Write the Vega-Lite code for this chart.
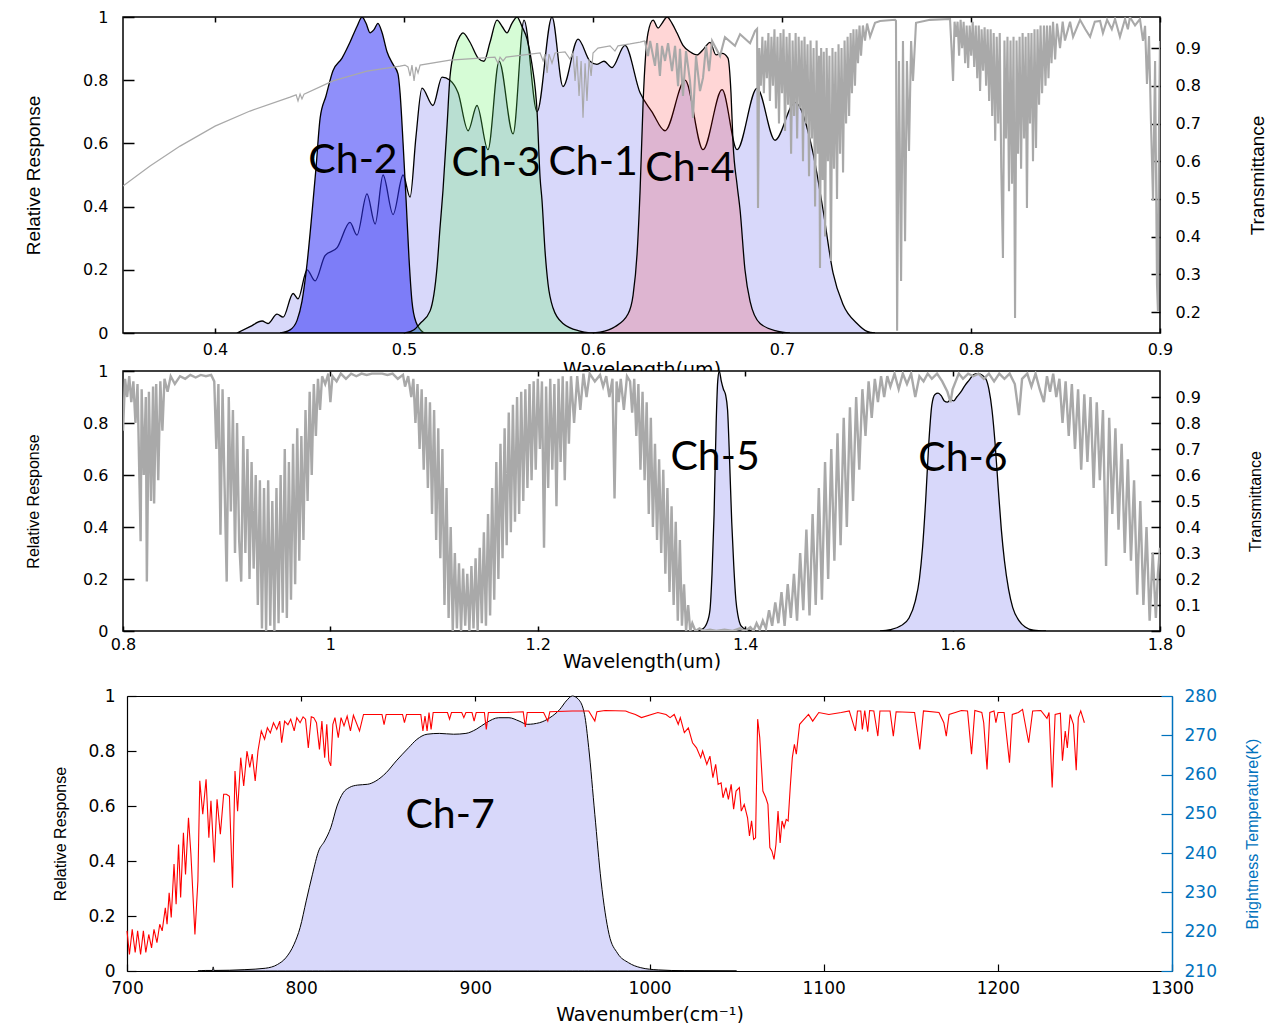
{
  "$schema": "https://vega.github.io/schema/vega-lite/v6.json",
  "background": "white",
  "padding": {"left": 23, "top": 8, "right": 1, "bottom": 1},
  "bounds": "flush",
  "spacing": 38,
  "config": {
    "axis": {"grid": false, "labelFlush": false, "labelOverlap": false, "labelBound": false, "labelFont": "DejaVu Sans", "labelFontSize": 16, "labelColor": "black", "tickColor": "black", "tickWidth": 1.5, "domain": false, "titleFontWeight": "normal", "titleColor": "black"},
    "text": {"font": "Lato", "fontSize": 41, "color": "black"}
  },
  "datasets": {
    "ch1": [
      {"wl":0.4116,"r":0},{"wl":0.4185,"r":0.02},{"wl":0.4249,"r":0.038},{"wl":0.428,"r":0.03},{"wl":0.4328,"r":0.06},{"wl":0.436,"r":0.05},{"wl":0.4413,"r":0.125},{"wl":0.4439,"r":0.108},{"wl":0.4487,"r":0.2},{"wl":0.4529,"r":0.165},{"wl":0.4582,"r":0.245},{"wl":0.4646,"r":0.27},{"wl":0.4714,"r":0.35},{"wl":0.4751,"r":0.31},{"wl":0.4804,"r":0.44},{"wl":0.4847,"r":0.345},{"wl":0.4889,"r":0.5},{"wl":0.4942,"r":0.375},{"wl":0.4995,"r":0.5},{"wl":0.5032,"r":0.43},{"wl":0.5063,"r":0.62},{"wl":0.5095,"r":0.775},{"wl":0.5153,"r":0.72},{"wl":0.5201,"r":0.81},{"wl":0.5243,"r":0.8},{"wl":0.5286,"r":0.76},{"wl":0.5339,"r":0.64},{"wl":0.5386,"r":0.72},{"wl":0.5444,"r":0.58},{"wl":0.5503,"r":0.86},{"wl":0.5577,"r":0.63},{"wl":0.5635,"r":0.99},{"wl":0.5704,"r":0.7},{"wl":0.5783,"r":1.0},{"wl":0.5841,"r":0.78},{"wl":0.5921,"r":0.93},{"wl":0.5984,"r":0.86},{"wl":0.6021,"r":0.85},{"wl":0.6058,"r":0.86},{"wl":0.61,"r":0.84},{"wl":0.6169,"r":0.91},{"wl":0.6249,"r":0.76},{"wl":0.6312,"r":0.7},{"wl":0.6381,"r":0.64},{"wl":0.6487,"r":0.8},{"wl":0.6582,"r":0.58},{"wl":0.6683,"r":0.77},{"wl":0.6762,"r":0.58},{"wl":0.6868,"r":0.775},{"wl":0.6963,"r":0.61},{"wl":0.7069,"r":0.73},{"wl":0.7164,"r":0.57},{"wl":0.7217,"r":0.39},{"wl":0.727,"r":0.19},{"wl":0.7323,"r":0.09},{"wl":0.7397,"r":0.03},{"wl":0.745,"r":0.005},{"wl":0.7492,"r":0}
    ],
    "ch2": [
      {"wl":0.4344,"r":0},{"wl":0.4397,"r":0.01},{"wl":0.4434,"r":0.04},{"wl":0.446,"r":0.1},{"wl":0.4487,"r":0.22},{"wl":0.4513,"r":0.38},{"wl":0.4534,"r":0.52},{"wl":0.4556,"r":0.68},{"wl":0.4587,"r":0.75},{"wl":0.4624,"r":0.83},{"wl":0.4672,"r":0.87},{"wl":0.4714,"r":0.92},{"wl":0.4751,"r":0.97},{"wl":0.4778,"r":1.0},{"wl":0.4799,"r":0.98},{"wl":0.482,"r":0.95},{"wl":0.4841,"r":0.96},{"wl":0.4862,"r":0.98},{"wl":0.4884,"r":0.95},{"wl":0.491,"r":0.89},{"wl":0.4942,"r":0.85},{"wl":0.4968,"r":0.82},{"wl":0.4979,"r":0.76},{"wl":0.4995,"r":0.6},{"wl":0.5011,"r":0.42},{"wl":0.5026,"r":0.24},{"wl":0.5042,"r":0.1},{"wl":0.5063,"r":0.035},{"wl":0.5106,"r":0}
    ],
    "ch3": [
      {"wl":0.5005,"r":0},{"wl":0.5053,"r":0.01},{"wl":0.5085,"r":0.03},{"wl":0.5138,"r":0.07},{"wl":0.5175,"r":0.21},{"wl":0.519,"r":0.33},{"wl":0.5206,"r":0.45},{"wl":0.5228,"r":0.66},{"wl":0.5243,"r":0.81},{"wl":0.527,"r":0.9},{"wl":0.5296,"r":0.94},{"wl":0.5312,"r":0.95},{"wl":0.5349,"r":0.92},{"wl":0.5392,"r":0.87},{"wl":0.5423,"r":0.86},{"wl":0.5455,"r":0.92},{"wl":0.5492,"r":0.99},{"wl":0.5519,"r":0.97},{"wl":0.5545,"r":0.95},{"wl":0.5571,"r":0.98},{"wl":0.5598,"r":1.0},{"wl":0.5624,"r":0.97},{"wl":0.5651,"r":0.93},{"wl":0.5677,"r":0.85},{"wl":0.5704,"r":0.7},{"wl":0.572,"r":0.49},{"wl":0.573,"r":0.42},{"wl":0.5746,"r":0.26},{"wl":0.5762,"r":0.155},{"wl":0.5788,"r":0.08},{"wl":0.5841,"r":0.03},{"wl":0.5931,"r":0.006},{"wl":0.5984,"r":0}
    ],
    "ch4": [
      {"wl":0.5984,"r":0},{"wl":0.6037,"r":0.003},{"wl":0.6116,"r":0.02},{"wl":0.6185,"r":0.06},{"wl":0.6212,"r":0.12},{"wl":0.6233,"r":0.25},{"wl":0.6249,"r":0.45},{"wl":0.6265,"r":0.73},{"wl":0.6291,"r":0.95},{"wl":0.6318,"r":0.99},{"wl":0.6344,"r":0.965},{"wl":0.6365,"r":0.98},{"wl":0.6392,"r":1.0},{"wl":0.6418,"r":0.98},{"wl":0.6444,"r":0.95},{"wl":0.6476,"r":0.91},{"wl":0.6513,"r":0.89},{"wl":0.655,"r":0.88},{"wl":0.6587,"r":0.9},{"wl":0.6619,"r":0.92},{"wl":0.6651,"r":0.88},{"wl":0.6683,"r":0.885},{"wl":0.6714,"r":0.87},{"wl":0.673,"r":0.76},{"wl":0.6741,"r":0.6},{"wl":0.6762,"r":0.47},{"wl":0.6778,"r":0.39},{"wl":0.6804,"r":0.2},{"wl":0.6831,"r":0.1},{"wl":0.6884,"r":0.03},{"wl":0.6974,"r":0.006},{"wl":0.7042,"r":0}
    ],
    "trans1": [
      {"wl":0.3513,"t":0.534},{"wl":0.3656,"t":0.587},{"wl":0.3815,"t":0.64},{"wl":0.4,"t":0.693},{"wl":0.4185,"t":0.733},{"wl":0.4397,"t":0.77},{"wl":0.4429,"t":0.776},{"wl":0.4439,"t":0.76},{"wl":0.445,"t":0.778},{"wl":0.446,"t":0.765},{"wl":0.4471,"t":0.778},{"wl":0.4624,"t":0.813},{"wl":0.4804,"t":0.839},{"wl":0.4979,"t":0.852},{"wl":0.5005,"t":0.855},{"wl":0.5021,"t":0.85},{"wl":0.5032,"t":0.826},{"wl":0.5042,"t":0.855},{"wl":0.5053,"t":0.813},{"wl":0.5063,"t":0.85},{"wl":0.5074,"t":0.834},{"wl":0.5085,"t":0.855},{"wl":0.5243,"t":0.868},{"wl":0.5481,"t":0.876},{"wl":0.5497,"t":0.86},{"wl":0.5508,"t":0.876},{"wl":0.5524,"t":0.866},{"wl":0.554,"t":0.876},{"wl":0.572,"t":0.887},{"wl":0.5736,"t":0.866},{"wl":0.5746,"t":0.884},{"wl":0.5757,"t":0.834},{"wl":0.5767,"t":0.884},{"wl":0.5783,"t":0.86},{"wl":0.5799,"t":0.887},{"wl":0.5852,"t":0.89},{"wl":0.5878,"t":0.871},{"wl":0.5894,"t":0.887},{"wl":0.5905,"t":0.813},{"wl":0.5915,"t":0.879},{"wl":0.5926,"t":0.773},{"wl":0.5937,"t":0.866},{"wl":0.5947,"t":0.715},{"wl":0.5958,"t":0.86},{"wl":0.5968,"t":0.76},{"wl":0.5979,"t":0.871},{"wl":0.599,"t":0.826},{"wl":0.6,"t":0.887},{"wl":0.6026,"t":0.9},{"wl":0.609,"t":0.906},{"wl":0.6116,"t":0.892},{"wl":0.6132,"t":0.906},{"wl":0.6196,"t":0.911},{"wl":0.6249,"t":0.916},{"wl":0.6275,"t":0.919},{"wl":0.6291,"t":0.879},{"wl":0.6302,"t":0.919},{"wl":0.6328,"t":0.853},{"wl":0.6339,"t":0.913},{"wl":0.6354,"t":0.826},{"wl":0.6365,"t":0.906},{"wl":0.6381,"t":0.866},{"wl":0.6397,"t":0.913},{"wl":0.6418,"t":0.839},{"wl":0.6434,"t":0.906},{"wl":0.645,"t":0.799},{"wl":0.646,"t":0.898},{"wl":0.6476,"t":0.773},{"wl":0.6492,"t":0.892},{"wl":0.6513,"t":0.813},{"wl":0.6529,"t":0.715},{"wl":0.6545,"t":0.879},{"wl":0.6566,"t":0.786},{"wl":0.6582,"t":0.821},{"wl":0.6598,"t":0.906},{"wl":0.6614,"t":0.839},{"wl":0.663,"t":0.919},{"wl":0.6672,"t":0.879},{"wl":0.6698,"t":0.929},{"wl":0.6751,"t":0.906},{"wl":0.6778,"t":0.937},{"wl":0.6831,"t":0.913},{"wl":0.6857,"t":0.945},{"wl":0.6868,"t":0.951},
      {"wl":0.6873,"t":0.476},{"wl":0.688,"t":0.9},{"wl":0.6888,"t":0.8},{"wl":0.6896,"t":0.93},{"wl":0.6904,"t":0.78},{"wl":0.6912,"t":0.92},{"wl":0.692,"t":0.82},{"wl":0.6928,"t":0.94},{"wl":0.6936,"t":0.76},{"wl":0.6944,"t":0.93},{"wl":0.6952,"t":0.8},{"wl":0.696,"t":0.95},{"wl":0.6968,"t":0.74},{"wl":0.6976,"t":0.93},{"wl":0.6984,"t":0.7},{"wl":0.6992,"t":0.94},{"wl":0.7,"t":0.78},{"wl":0.7008,"t":0.95},{"wl":0.7016,"t":0.68},{"wl":0.7024,"t":0.93},{"wl":0.7032,"t":0.75},{"wl":0.704,"t":0.94},{"wl":0.7048,"t":0.62},{"wl":0.7056,"t":0.92},{"wl":0.7064,"t":0.72},{"wl":0.7072,"t":0.94},{"wl":0.708,"t":0.66},{"wl":0.7088,"t":0.93},{"wl":0.7096,"t":0.74},{"wl":0.7104,"t":0.92},{"wl":0.7111,"t":0.6},{"wl":0.7119,"t":0.93},{"wl":0.7127,"t":0.7},{"wl":0.7135,"t":0.91},{"wl":0.7143,"t":0.56},{"wl":0.7151,"t":0.92},{"wl":0.7159,"t":0.66},{"wl":0.7167,"t":0.9},{"wl":0.7175,"t":0.48},{"wl":0.7183,"t":0.92},{"wl":0.719,"t":0.62},{"wl":0.7196,"t":0.88},{"wl":0.7201,"t":0.317},{"wl":0.7207,"t":0.9},{"wl":0.7215,"t":0.55},{"wl":0.7221,"t":0.89},{"wl":0.7228,"t":0.4},{"wl":0.7236,"t":0.9},{"wl":0.7243,"t":0.6},{"wl":0.7251,"t":0.88},{"wl":0.7259,"t":0.335},{"wl":0.7267,"t":0.9},{"wl":0.7275,"t":0.58},{"wl":0.7283,"t":0.89},{"wl":0.7291,"t":0.5},{"wl":0.7299,"t":0.91},{"wl":0.7307,"t":0.62},{"wl":0.7315,"t":0.9},{"wl":0.7323,"t":0.57},{"wl":0.7331,"t":0.92},{"wl":0.7339,"t":0.7},{"wl":0.7347,"t":0.93},{"wl":0.7355,"t":0.72},{"wl":0.7363,"t":0.94},{"wl":0.737,"t":0.78},{"wl":0.7378,"t":0.95},{"wl":0.7386,"t":0.8},{"wl":0.7394,"t":0.95},{"wl":0.7402,"t":0.86},{"wl":0.741,"t":0.96},{"wl":0.7418,"t":0.88},{"wl":0.7428,"t":0.96},{"wl":0.7439,"t":0.92},{"wl":0.745,"t":0.965},{"wl":0.7466,"t":0.93},{"wl":0.7492,"t":0.967},
      {"wl":0.7519,"t":0.972},{"wl":0.7598,"t":0.975},{"wl":0.7603,"t":0.972},{"wl":0.7609,"t":0.15},{"wl":0.7619,"t":0.866},{"wl":0.763,"t":0.282},{"wl":0.764,"t":0.919},{"wl":0.7651,"t":0.388},{"wl":0.7661,"t":0.866},{"wl":0.7672,"t":0.627},{"wl":0.7683,"t":0.919},{"wl":0.7693,"t":0.813},{"wl":0.7709,"t":0.967},{"wl":0.7783,"t":0.975},
      {"wl":0.7889,"t":0.977},{"wl":0.7897,"t":0.9},{"wl":0.7905,"t":0.813},{"wl":0.7913,"t":0.97},{"wl":0.7921,"t":0.93},{"wl":0.7929,"t":0.97},{"wl":0.7937,"t":0.88},{"wl":0.7945,"t":0.975},{"wl":0.7953,"t":0.9},{"wl":0.7961,"t":0.97},{"wl":0.7969,"t":0.86},{"wl":0.7977,"t":0.96},{"wl":0.7985,"t":0.847},{"wl":0.7993,"t":0.96},{"wl":0.8001,"t":0.88},{"wl":0.8009,"t":0.97},{"wl":0.8017,"t":0.85},{"wl":0.8025,"t":0.96},{"wl":0.8033,"t":0.82},{"wl":0.8041,"t":0.96},{"wl":0.8048,"t":0.786},{"wl":0.8056,"t":0.95},{"wl":0.8064,"t":0.84},{"wl":0.8072,"t":0.955},{"wl":0.808,"t":0.8},{"wl":0.8088,"t":0.95},{"wl":0.8096,"t":0.76},{"wl":0.8104,"t":0.95},{"wl":0.8112,"t":0.72},{"wl":0.812,"t":0.94},{"wl":0.8128,"t":0.654},{"wl":0.8136,"t":0.93},{"wl":0.8144,"t":0.7},{"wl":0.8152,"t":0.94},{"wl":0.816,"t":0.582},{"wl":0.8169,"t":0.343},{"wl":0.8177,"t":0.92},{"wl":0.8185,"t":0.66},{"wl":0.8193,"t":0.93},{"wl":0.8201,"t":0.52},{"wl":0.8209,"t":0.92},{"wl":0.8217,"t":0.54},{"wl":0.8225,"t":0.93},{"wl":0.8233,"t":0.184},{"wl":0.8241,"t":0.92},{"wl":0.8249,"t":0.62},{"wl":0.8257,"t":0.93},{"wl":0.8265,"t":0.58},{"wl":0.8273,"t":0.94},{"wl":0.8281,"t":0.66},{"wl":0.8289,"t":0.93},{"wl":0.8296,"t":0.476},{"wl":0.8304,"t":0.94},{"wl":0.8312,"t":0.7},{"wl":0.832,"t":0.94},{"wl":0.8328,"t":0.6},{"wl":0.8336,"t":0.95},{"wl":0.8344,"t":0.635},{"wl":0.8352,"t":0.95},{"wl":0.836,"t":0.75},{"wl":0.8368,"t":0.96},{"wl":0.8376,"t":0.78},{"wl":0.8386,"t":0.96},{"wl":0.8394,"t":0.8},{"wl":0.8402,"t":0.96},{"wl":0.841,"t":0.82},{"wl":0.8418,"t":0.96},{"wl":0.8426,"t":0.86},{"wl":0.8434,"t":0.97},{"wl":0.8445,"t":0.87},{"wl":0.8455,"t":0.965},{"wl":0.8471,"t":0.9},{"wl":0.8485,"t":0.97},{"wl":0.8497,"t":0.92},{"wl":0.8524,"t":0.97},{"wl":0.854,"t":0.93},{"wl":0.8577,"t":0.975},
      {"wl":0.8605,"t":0.95},{"wl":0.863,"t":0.93},{"wl":0.8655,"t":0.97},{"wl":0.8683,"t":0.972},{"wl":0.8698,"t":0.94},{"wl":0.872,"t":0.975},{"wl":0.8745,"t":0.95},{"wl":0.8762,"t":0.977},{"wl":0.8788,"t":0.93},{"wl":0.8815,"t":0.977},{"wl":0.883,"t":0.95},{"wl":0.8841,"t":0.982},{"wl":0.8868,"t":0.96},{"wl":0.8894,"t":0.977},{"wl":0.891,"t":0.919},{"wl":0.8921,"t":0.959},{"wl":0.8931,"t":0.805},{"wl":0.8942,"t":0.932},{"wl":0.8952,"t":0.707},{"wl":0.8963,"t":0.495},{"wl":0.8974,"t":0.866},{"wl":0.8984,"t":0.274},{"wl":0.8989,"t":0.203},{"wl":0.8995,"t":0.707},{"wl":0.9,"t":0.919}
    ],
    "lab1": [
      {"wl":0.473,"r":0.544,"ch":"Ch-2"},{"wl":0.5487,"r":0.535,"ch":"Ch-3"},{"wl":0.6,"r":0.538,"ch":"Ch-1"},{"wl":0.6513,"r":0.519,"ch":"Ch-4"}
    ],
    "ch5": [
      {"wl":1.35,"r":0},{"wl":1.358,"r":0.006},{"wl":1.363,"r":0.03},{"wl":1.366,"r":0.08},{"wl":1.368,"r":0.22},{"wl":1.37,"r":0.45},{"wl":1.372,"r":0.8},{"wl":1.3735,"r":0.96},{"wl":1.375,"r":1.0},{"wl":1.377,"r":0.96},{"wl":1.379,"r":0.93},{"wl":1.381,"r":0.91},{"wl":1.383,"r":0.85},{"wl":1.385,"r":0.65},{"wl":1.387,"r":0.42},{"wl":1.389,"r":0.25},{"wl":1.391,"r":0.12},{"wl":1.393,"r":0.06},{"wl":1.396,"r":0.02},{"wl":1.401,"r":0.006},{"wl":1.41,"r":0}
    ],
    "ch6": [
      {"wl":1.53,"r":0},{"wl":1.54,"r":0.005},{"wl":1.55,"r":0.02},{"wl":1.558,"r":0.05},{"wl":1.564,"r":0.115},{"wl":1.568,"r":0.2},{"wl":1.571,"r":0.32},{"wl":1.574,"r":0.5},{"wl":1.577,"r":0.72},{"wl":1.58,"r":0.87},{"wl":1.583,"r":0.91},{"wl":1.586,"r":0.915},{"wl":1.589,"r":0.905},{"wl":1.592,"r":0.885},{"wl":1.595,"r":0.88},{"wl":1.598,"r":0.89},{"wl":1.601,"r":0.885},{"wl":1.604,"r":0.9},{"wl":1.608,"r":0.92},{"wl":1.612,"r":0.945},{"wl":1.616,"r":0.965},{"wl":1.62,"r":0.985},{"wl":1.624,"r":0.99},{"wl":1.628,"r":0.985},{"wl":1.632,"r":0.97},{"wl":1.635,"r":0.93},{"wl":1.638,"r":0.85},{"wl":1.641,"r":0.72},{"wl":1.644,"r":0.55},{"wl":1.647,"r":0.39},{"wl":1.65,"r":0.27},{"wl":1.654,"r":0.16},{"wl":1.658,"r":0.09},{"wl":1.664,"r":0.04},{"wl":1.67,"r":0.015},{"wl":1.678,"r":0.003},{"wl":1.69,"r":0}
    ],
    "trans2": [
      {"wl":0.8,"t":0.77},{"wl":0.802,"t":0.97},{"wl":0.804,"t":0.9},{"wl":0.806,"t":0.98},{"wl":0.808,"t":0.88},{"wl":0.81,"t":0.96},{"wl":0.812,"t":0.8},{"wl":0.814,"t":0.95},{"wl":0.816,"t":0.55},{"wl":0.817,"t":0.345},{"wl":0.818,"t":0.93},{"wl":0.82,"t":0.6},{"wl":0.822,"t":0.9},{"wl":0.823,"t":0.19},{"wl":0.825,"t":0.92},{"wl":0.827,"t":0.5},{"wl":0.829,"t":0.94},{"wl":0.83,"t":0.49},{"wl":0.832,"t":0.95},{"wl":0.834,"t":0.58},{"wl":0.836,"t":0.96},{"wl":0.838,"t":0.77},{"wl":0.84,"t":0.97},{"wl":0.843,"t":0.92},{"wl":0.846,"t":0.98},{"wl":0.85,"t":0.95},{"wl":0.855,"t":0.98},{"wl":0.86,"t":0.97},{"wl":0.865,"t":0.985},{"wl":0.87,"t":0.975},{"wl":0.875,"t":0.985},{"wl":0.88,"t":0.98},{"wl":0.885,"t":0.985},{"wl":0.888,"t":0.96},{"wl":0.89,"t":0.7},{"wl":0.892,"t":0.95},{"wl":0.894,"t":0.37},{"wl":0.896,"t":0.93},{"wl":0.898,"t":0.55},{"wl":0.9,"t":0.19},{"wl":0.902,"t":0.9},{"wl":0.904,"t":0.46},{"wl":0.906,"t":0.85},{"wl":0.908,"t":0.3},{"wl":0.91,"t":0.8},{"wl":0.912,"t":0.35},{"wl":0.914,"t":0.19},{"wl":0.916,"t":0.75},{"wl":0.918,"t":0.3},{"wl":0.92,"t":0.7},{"wl":0.922,"t":0.2},{"wl":0.924,"t":0.65},{"wl":0.926,"t":0.24},{"wl":0.928,"t":0.6},{"wl":0.93,"t":0.1},{"wl":0.932,"t":0.58},{"wl":0.934,"t":0.01},{"wl":0.936,"t":0.55},{"wl":0.938,"t":0.0},{"wl":0.94,"t":0.58},{"wl":0.942,"t":0.02},{"wl":0.944,"t":0.5},{"wl":0.946,"t":0.0},{"wl":0.948,"t":0.55},{"wl":0.95,"t":0.03},{"wl":0.952,"t":0.6},{"wl":0.954,"t":0.07},{"wl":0.956,"t":0.7},{"wl":0.958,"t":0.05},{"wl":0.96,"t":0.65},{"wl":0.962,"t":0.12},{"wl":0.964,"t":0.72},{"wl":0.966,"t":0.18},{"wl":0.968,"t":0.78},{"wl":0.97,"t":0.27},{"wl":0.972,"t":0.75},{"wl":0.974,"t":0.35},{"wl":0.976,"t":0.85},{"wl":0.978,"t":0.5},{"wl":0.98,"t":0.92},{"wl":0.982,"t":0.6},{"wl":0.984,"t":0.95},{"wl":0.986,"t":0.75},{"wl":0.988,"t":0.97},{"wl":0.99,"t":0.85},{"wl":0.992,"t":0.98},{"wl":0.995,"t":0.95},{"wl":0.998,"t":0.99},{"wl":1.0,"t":0.88},{"wl":1.002,"t":0.98},{"wl":1.006,"t":0.96},{"wl":1.01,"t":0.99},{"wl":1.015,"t":0.97},{"wl":1.02,"t":0.99},{"wl":1.025,"t":0.98},{"wl":1.03,"t":0.99},{"wl":1.035,"t":0.985},{"wl":1.04,"t":0.99},{"wl":1.045,"t":0.99},{"wl":1.05,"t":0.99},{"wl":1.055,"t":0.985},{"wl":1.06,"t":0.99},{"wl":1.065,"t":0.97},{"wl":1.07,"t":0.985},{"wl":1.072,"t":0.94},{"wl":1.075,"t":0.98},{"wl":1.078,"t":0.9},{"wl":1.08,"t":0.97},{"wl":1.082,"t":0.8},{"wl":1.084,"t":0.95},{"wl":1.086,"t":0.7},{"wl":1.088,"t":0.93},{"wl":1.09,"t":0.62},{"wl":1.092,"t":0.9},{"wl":1.094,"t":0.55},{"wl":1.096,"t":0.88},{"wl":1.098,"t":0.45},{"wl":1.1,"t":0.85},{"wl":1.102,"t":0.35},{"wl":1.104,"t":0.78},{"wl":1.106,"t":0.28},{"wl":1.108,"t":0.7},{"wl":1.11,"t":0.1},{"wl":1.112,"t":0.55},{"wl":1.114,"t":0.05},{"wl":1.116,"t":0.4},{"wl":1.118,"t":0.0},{"wl":1.12,"t":0.3},{"wl":1.122,"t":0.01},{"wl":1.124,"t":0.26},{"wl":1.126,"t":0.0},{"wl":1.128,"t":0.24},{"wl":1.13,"t":0.02},{"wl":1.132,"t":0.22},{"wl":1.134,"t":0.0},{"wl":1.136,"t":0.25},{"wl":1.138,"t":0.01},{"wl":1.14,"t":0.28},{"wl":1.142,"t":0.0},{"wl":1.144,"t":0.32},{"wl":1.146,"t":0.03},{"wl":1.148,"t":0.38},{"wl":1.15,"t":0.02},{"wl":1.152,"t":0.45},{"wl":1.154,"t":0.06},{"wl":1.156,"t":0.55},{"wl":1.158,"t":0.12},{"wl":1.16,"t":0.65},{"wl":1.162,"t":0.2},{"wl":1.164,"t":0.72},{"wl":1.166,"t":0.28},{"wl":1.168,"t":0.78},{"wl":1.17,"t":0.33},{"wl":1.172,"t":0.84},{"wl":1.174,"t":0.38},{"wl":1.176,"t":0.87},{"wl":1.178,"t":0.42},{"wl":1.18,"t":0.9},{"wl":1.182,"t":0.45},{"wl":1.184,"t":0.92},{"wl":1.186,"t":0.5},{"wl":1.188,"t":0.93},{"wl":1.19,"t":0.55},{"wl":1.192,"t":0.95},{"wl":1.194,"t":0.58},{"wl":1.196,"t":0.96},{"wl":1.198,"t":0.62},{"wl":1.2,"t":0.97},{"wl":1.202,"t":0.7},{"wl":1.204,"t":0.96},{"wl":1.206,"t":0.32},{"wl":1.208,"t":0.94},{"wl":1.21,"t":0.55},{"wl":1.212,"t":0.97},{"wl":1.214,"t":0.62},{"wl":1.216,"t":0.95},{"wl":1.218,"t":0.48},{"wl":1.22,"t":0.97},{"wl":1.222,"t":0.65},{"wl":1.224,"t":0.98},{"wl":1.226,"t":0.58},{"wl":1.228,"t":0.96},{"wl":1.23,"t":0.72},{"wl":1.232,"t":0.98},{"wl":1.235,"t":0.8},{"wl":1.238,"t":0.98},{"wl":1.241,"t":0.85},{"wl":1.244,"t":0.99},{"wl":1.247,"t":0.9},{"wl":1.25,"t":0.99},{"wl":1.255,"t":0.96},{"wl":1.26,"t":0.985},{"wl":1.263,"t":0.94},{"wl":1.266,"t":0.98},{"wl":1.269,"t":0.9},{"wl":1.272,"t":0.97},{"wl":1.274,"t":0.51},{"wl":1.276,"t":0.96},{"wl":1.278,"t":0.88},{"wl":1.28,"t":0.97},{"wl":1.283,"t":0.85},{"wl":1.286,"t":0.98},{"wl":1.289,"t":0.96},{"wl":1.291,"t":0.84},{"wl":1.293,"t":0.97},{"wl":1.295,"t":0.75},{"wl":1.297,"t":0.95},{"wl":1.299,"t":0.62},{"wl":1.301,"t":0.92},{"wl":1.303,"t":0.58},{"wl":1.305,"t":0.88},{"wl":1.307,"t":0.45},{"wl":1.309,"t":0.82},{"wl":1.311,"t":0.4},{"wl":1.313,"t":0.72},{"wl":1.315,"t":0.35},{"wl":1.317,"t":0.66},{"wl":1.319,"t":0.3},{"wl":1.321,"t":0.62},{"wl":1.323,"t":0.22},{"wl":1.325,"t":0.55},{"wl":1.327,"t":0.15},{"wl":1.329,"t":0.48},{"wl":1.331,"t":0.1},{"wl":1.333,"t":0.42},{"wl":1.335,"t":0.04},{"wl":1.337,"t":0.35},{"wl":1.339,"t":0.02},{"wl":1.341,"t":0.18},{"wl":1.343,"t":0.0},{"wl":1.345,"t":0.1},{"wl":1.347,"t":0.0},{"wl":1.349,"t":0.03},{"wl":1.352,"t":0.0},{"wl":1.356,"t":0.01},{"wl":1.36,"t":0.0},{"wl":1.366,"t":0.005},{"wl":1.372,"t":0.0},{"wl":1.38,"t":0.005},{"wl":1.388,"t":0.0},{"wl":1.395,"t":0.01},{"wl":1.4,"t":0.0},{"wl":1.405,"t":0.015},{"wl":1.408,"t":0.0},{"wl":1.411,"t":0.03},{"wl":1.414,"t":0.005},{"wl":1.417,"t":0.04},{"wl":1.42,"t":0.01},{"wl":1.423,"t":0.08},{"wl":1.426,"t":0.02},{"wl":1.429,"t":0.11},{"wl":1.432,"t":0.03},{"wl":1.435,"t":0.15},{"wl":1.438,"t":0.02},{"wl":1.441,"t":0.18},{"wl":1.444,"t":0.05},{"wl":1.447,"t":0.22},{"wl":1.45,"t":0.04},{"wl":1.453,"t":0.3},{"wl":1.456,"t":0.08},{"wl":1.459,"t":0.39},{"wl":1.462,"t":0.06},{"wl":1.465,"t":0.45},{"wl":1.468,"t":0.1},{"wl":1.471,"t":0.55},{"wl":1.474,"t":0.12},{"wl":1.477,"t":0.65},{"wl":1.48,"t":0.2},{"wl":1.483,"t":0.7},{"wl":1.486,"t":0.27},{"wl":1.489,"t":0.76},{"wl":1.492,"t":0.33},{"wl":1.495,"t":0.82},{"wl":1.498,"t":0.4},{"wl":1.501,"t":0.86},{"wl":1.504,"t":0.5},{"wl":1.507,"t":0.9},{"wl":1.51,"t":0.62},{"wl":1.513,"t":0.93},{"wl":1.516,"t":0.75},{"wl":1.519,"t":0.96},{"wl":1.522,"t":0.82},{"wl":1.525,"t":0.97},{"wl":1.528,"t":0.88},{"wl":1.531,"t":0.98},{"wl":1.534,"t":0.9},{"wl":1.537,"t":0.98},{"wl":1.54,"t":0.94},{"wl":1.544,"t":0.99},{"wl":1.548,"t":0.93},{"wl":1.552,"t":0.99},{"wl":1.556,"t":0.95},{"wl":1.56,"t":0.99},{"wl":1.564,"t":0.9},{"wl":1.568,"t":0.98},{"wl":1.572,"t":0.96},{"wl":1.576,"t":0.99},{"wl":1.58,"t":0.97},{"wl":1.585,"t":0.99},{"wl":1.59,"t":0.96},{"wl":1.595,"t":0.92},{"wl":1.598,"t":0.88},{"wl":1.6,"t":0.93},{"wl":1.603,"t":0.96},{"wl":1.606,"t":0.99},{"wl":1.61,"t":0.97},{"wl":1.615,"t":0.99},{"wl":1.62,"t":0.98},{"wl":1.625,"t":0.99},{"wl":1.63,"t":0.97},{"wl":1.635,"t":0.99},{"wl":1.64,"t":0.96},{"wl":1.645,"t":0.99},{"wl":1.65,"t":0.97},{"wl":1.655,"t":0.99},{"wl":1.66,"t":0.95},{"wl":1.664,"t":0.83},{"wl":1.667,"t":0.97},{"wl":1.672,"t":0.99},{"wl":1.676,"t":0.94},{"wl":1.68,"t":0.99},{"wl":1.684,"t":0.93},{"wl":1.688,"t":0.88},{"wl":1.691,"t":0.98},{"wl":1.694,"t":0.92},{"wl":1.697,"t":0.99},{"wl":1.7,"t":0.9},{"wl":1.703,"t":0.97},{"wl":1.706,"t":0.8},{"wl":1.709,"t":0.96},{"wl":1.712,"t":0.75},{"wl":1.715,"t":0.95},{"wl":1.718,"t":0.7},{"wl":1.721,"t":0.93},{"wl":1.724,"t":0.62},{"wl":1.727,"t":0.91},{"wl":1.73,"t":0.65},{"wl":1.733,"t":0.9},{"wl":1.736,"t":0.55},{"wl":1.739,"t":0.88},{"wl":1.742,"t":0.58},{"wl":1.745,"t":0.85},{"wl":1.748,"t":0.25},{"wl":1.751,"t":0.82},{"wl":1.754,"t":0.45},{"wl":1.757,"t":0.78},{"wl":1.76,"t":0.39},{"wl":1.763,"t":0.72},{"wl":1.766,"t":0.3},{"wl":1.769,"t":0.66},{"wl":1.772,"t":0.27},{"wl":1.775,"t":0.58},{"wl":1.778,"t":0.14},{"wl":1.781,"t":0.5},{"wl":1.784,"t":0.1},{"wl":1.787,"t":0.4},{"wl":1.79,"t":0.04},{"wl":1.793,"t":0.3},{"wl":1.796,"t":0.05},{"wl":1.798,"t":0.22},{"wl":1.8,"t":0.32}
    ],
    "lab2": [
      {"wl":1.371,"r":0.665,"ch":"Ch-5"},{"wl":1.61,"r":0.662,"ch":"Ch-6"}
    ],
    "ch7": [
      {"wn":740.7,"r":0},{"wn":745,"r":0.002},{"wn":749,"r":0.002},{"wn":749.5,"r":0.015},{"wn":750,"r":0.002},{"wn":767.7,"r":0.005},{"wn":779.4,"r":0.01},{"wn":786.5,"r":0.024},{"wn":791.2,"r":0.048},{"wn":795.9,"r":0.097},{"wn":799.4,"r":0.158},{"wn":802.9,"r":0.255},{"wn":806.5,"r":0.352},{"wn":810,"r":0.436},{"wn":813.5,"r":0.473},{"wn":817,"r":0.521},{"wn":820.6,"r":0.6},{"wn":824.1,"r":0.648},{"wn":827.6,"r":0.667},{"wn":832.3,"r":0.676},{"wn":838.2,"r":0.679},{"wn":842.9,"r":0.691},{"wn":848.8,"r":0.721},{"wn":854.6,"r":0.764},{"wn":861.7,"r":0.812},{"wn":866.4,"r":0.842},{"wn":872.3,"r":0.861},{"wn":879.3,"r":0.864},{"wn":887.5,"r":0.861},{"wn":894.6,"r":0.864},{"wn":900.5,"r":0.879},{"wn":906.3,"r":0.903},{"wn":913.4,"r":0.921},{"wn":919.3,"r":0.921},{"wn":925.1,"r":0.909},{"wn":929.8,"r":0.897},{"wn":936.9,"r":0.903},{"wn":942.8,"r":0.921},{"wn":948.6,"r":0.952},{"wn":952.2,"r":0.982},{"wn":955.7,"r":1.0},{"wn":959.2,"r":0.988},{"wn":962.7,"r":0.933},{"wn":965.1,"r":0.812},{"wn":968.6,"r":0.57},{"wn":972.2,"r":0.327},{"wn":976.8,"r":0.133},{"wn":981.6,"r":0.065},{"wn":988,"r":0.03},{"wn":995,"r":0.012},{"wn":1005,"r":0.004},{"wn":1020,"r":0.001},{"wn":1050,"r":0}
    ],
    "bt": [
      {"wn":700,"k":220.2},{"wn":701.4,"k":214.2},{"wn":703,"k":220.6},{"wn":704.7,"k":214.7},{"wn":706.1,"k":220.2},{"wn":707.8,"k":214.2},{"wn":709.4,"k":220.2},{"wn":710.8,"k":214.7},{"wn":712.5,"k":219.3},{"wn":714.1,"k":215.9},{"wn":715.5,"k":220.6},{"wn":717.2,"k":217.2},{"wn":718.8,"k":221.9},{"wn":720.2,"k":220.2},{"wn":722,"k":226.1},{"wn":723,"k":221.9},{"wn":724.2,"k":229.9},{"wn":725.4,"k":223.6},{"wn":727,"k":237.2},{"wn":728.2,"k":227},{"wn":729.6,"k":242.2},{"wn":730.8,"k":228.7},{"wn":732.4,"k":245.2},{"wn":733.6,"k":234.6},{"wn":735.3,"k":249},{"wn":736.7,"k":239.7},{"wn":739,"k":219.3},{"wn":740.7,"k":232.9},{"wn":741.8,"k":258.4},{"wn":743.5,"k":249.9},{"wn":745.4,"k":258.8},{"wn":747,"k":243.9},{"wn":748.2,"k":253.3},{"wn":750.1,"k":237.6},{"wn":751.7,"k":253.7},{"wn":753.6,"k":244.8},{"wn":755.5,"k":255},{"wn":757.1,"k":255},{"wn":758.8,"k":254.5},{"wn":760.6,"k":231.2},{"wn":762,"k":260.9},{"wn":763.5,"k":250.7},{"wn":765.3,"k":264.3},{"wn":767,"k":257.1},{"wn":768.9,"k":266},{"wn":770.5,"k":261.8},{"wn":771.9,"k":265.2},{"wn":773.6,"k":258.4},{"wn":775.2,"k":266},{"wn":777.1,"k":271.1},{"wn":779,"k":269},{"wn":780.6,"k":271.9},{"wn":782.3,"k":270.6},{"wn":784.1,"k":273.2},{"wn":786,"k":271.5},{"wn":787.7,"k":273.6},{"wn":788.8,"k":268.1},{"wn":790.5,"k":273.6},{"wn":792.4,"k":272.7},{"wn":794,"k":274.1},{"wn":796,"k":271.1},{"wn":797.5,"k":274.5},{"wn":799.4,"k":273.2},{"wn":801.1,"k":274.7},{"wn":802.5,"k":274.1},{"wn":804.1,"k":266.8},{"wn":805.8,"k":274.7},{"wn":807.2,"k":274.5},{"wn":808.8,"k":273.2},{"wn":810.5,"k":266.4},{"wn":811.9,"k":273.6},{"wn":813.5,"k":264.3},{"wn":814.7,"k":272.8},{"wn":815.9,"k":263.5},{"wn":817,"k":262.2},{"wn":818.2,"k":272.8},{"wn":819.4,"k":274.5},{"wn":821.3,"k":269.4},{"wn":822.9,"k":274.5},{"wn":824.6,"k":272.4},{"wn":826.4,"k":274.9},{"wn":828.3,"k":271.1},{"wn":830,"k":275.1},{"wn":833.5,"k":271.1},{"wn":835.8,"k":275.3},{"wn":842.9,"k":275.3},{"wn":846.4,"k":275.3},{"wn":847.6,"k":272.7},{"wn":848.8,"k":275.3},{"wn":858.2,"k":275.3},{"wn":859.3,"k":273.2},{"wn":860.5,"k":275.3},{"wn":868.7,"k":275.3},{"wn":869.9,"k":271.1},{"wn":871.1,"k":274.9},{"wn":872.3,"k":271.1},{"wn":873.4,"k":275.8},{"wn":874.6,"k":271.5},{"wn":875.8,"k":275.8},{"wn":884,"k":275.8},{"wn":885.2,"k":274.1},{"wn":886.3,"k":275.8},{"wn":892.2,"k":275.8},{"wn":893.4,"k":274.5},{"wn":894.6,"k":275.8},{"wn":898.1,"k":275.8},{"wn":899.3,"k":273.6},{"wn":900.5,"k":275.8},{"wn":905.2,"k":275.8},{"wn":906.3,"k":271.5},{"wn":907.5,"k":275.8},{"wn":918.1,"k":275.8},{"wn":927.5,"k":276},{"wn":928.7,"k":272.1},{"wn":929.8,"k":275.8},{"wn":939.2,"k":275.8},{"wn":941.6,"k":273.6},{"wn":942.8,"k":276},{"wn":955.7,"k":276.2},{"wn":965.1,"k":276.2},{"wn":968.6,"k":273.6},{"wn":969.8,"k":276},{"wn":974.5,"k":276.3},{"wn":986.3,"k":276.2},{"wn":988.4,"k":275.8},{"wn":991.9,"k":275.3},{"wn":995.4,"k":274.5},{"wn":1004.8,"k":275.8},{"wn":1009.5,"k":275.3},{"wn":1011.8,"k":274.5},{"wn":1014.2,"k":275.3},{"wn":1016.5,"k":272.8},{"wn":1017.7,"k":274.5},{"wn":1020,"k":270.7},{"wn":1022.3,"k":271.9},{"wn":1024.7,"k":268.1},{"wn":1027,"k":266.8},{"wn":1029.4,"k":264.3},{"wn":1030.5,"k":266},{"wn":1032.9,"k":262.6},{"wn":1034.7,"k":264.7},{"wn":1036.4,"k":259.2},{"wn":1038,"k":262.6},{"wn":1039.4,"k":257.5},{"wn":1041.1,"k":257.9},{"wn":1042.2,"k":254.1},{"wn":1043.9,"k":256.7},{"wn":1045.3,"k":253.7},{"wn":1046.9,"k":257.5},{"wn":1048.3,"k":251.2},{"wn":1049.7,"k":255.8},{"wn":1051.6,"k":256.7},{"wn":1052.7,"k":250.7},{"wn":1054.4,"k":252.4},{"wn":1056.3,"k":249},{"wn":1057.4,"k":244.4},{"wn":1058.6,"k":248.2},{"wn":1059.8,"k":243.5},{"wn":1060.9,"k":243.9},{"wn":1062.1,"k":274.1},{"wn":1063.3,"k":269.4},{"wn":1065.1,"k":255.8},{"wn":1066.8,"k":254.1},{"wn":1068,"k":252.4},{"wn":1069.1,"k":241.4},{"wn":1070.3,"k":240.5},{"wn":1071.5,"k":238.4},{"wn":1072.6,"k":242.2},{"wn":1073.8,"k":250.7},{"wn":1075,"k":242.6},{"wn":1076.1,"k":248.2},{"wn":1077.3,"k":246.5},{"wn":1078.5,"k":248.6},{"wn":1079.6,"k":248.2},{"wn":1080.8,"k":256.7},{"wn":1082,"k":264.3},{"wn":1083.2,"k":267.7},{"wn":1084.3,"k":265.2},{"wn":1086.2,"k":272.8},{"wn":1087.8,"k":273.6},{"wn":1091.3,"k":275.3},{"wn":1093.7,"k":273.6},{"wn":1097.2,"k":275.8},{"wn":1103,"k":275.3},{"wn":1110.1,"k":275.8},{"wn":1114.7,"k":276.2},{"wn":1118.2,"k":271.1},{"wn":1119.4,"k":276.2},{"wn":1121.3,"k":276.2},{"wn":1122.2,"k":271.5},{"wn":1123.6,"k":276.3},{"wn":1125.3,"k":270.9},{"wn":1126.4,"k":276.3},{"wn":1128.8,"k":276.2},{"wn":1131.1,"k":269.8},{"wn":1132.3,"k":276.2},{"wn":1138.1,"k":276.2},{"wn":1140,"k":269.8},{"wn":1141.6,"k":276},{"wn":1152.2,"k":275.8},{"wn":1155.2,"k":266.4},{"wn":1157.3,"k":276.2},{"wn":1166.2,"k":275.8},{"wn":1169,"k":273.2},{"wn":1170.4,"k":269.8},{"wn":1172,"k":275.3},{"wn":1175.6,"k":275.8},{"wn":1179.1,"k":276.3},{"wn":1182.6,"k":276.2},{"wn":1184.9,"k":265.2},{"wn":1186.8,"k":276.3},{"wn":1190.8,"k":275.8},{"wn":1191.9,"k":273.2},{"wn":1193.8,"k":261.3},{"wn":1195.4,"k":275.8},{"wn":1197.8,"k":276.2},{"wn":1198.9,"k":273.2},{"wn":1200.1,"k":275.8},{"wn":1203.6,"k":275.8},{"wn":1206.7,"k":263},{"wn":1208.3,"k":275.3},{"wn":1211.8,"k":275.8},{"wn":1214.2,"k":276.6},{"wn":1217.7,"k":268.1},{"wn":1220,"k":276.2},{"wn":1224.7,"k":276.3},{"wn":1228.2,"k":274.3},{"wn":1229.4,"k":275.8},{"wn":1231.2,"k":256.7},{"wn":1232.9,"k":275.3},{"wn":1235.9,"k":275.6},{"wn":1237.1,"k":263.5},{"wn":1238.7,"k":271.1},{"wn":1239.9,"k":266.8},{"wn":1241.5,"k":275.3},{"wn":1243.4,"k":272.8},{"wn":1245,"k":261.1},{"wn":1246.2,"k":274.5},{"wn":1247.6,"k":276.2},{"wn":1249.7,"k":273.2}
    ],
    "lab3": [
      {"wn":885.5,"r":0.564,"ch":"Ch-7"}
    ]
  },
  "vconcat": [
    {
      "width": 1037,
      "height": 316,
      "view": {"stroke": "black", "strokeWidth": 1.5, "fill": "white"},
      "resolve": {"scale": {"x": "independent", "y": "independent"}},
      "layer": [
        {
          "data": {"name": "ch1"},
          "mark": {"type": "area", "interpolate": "monotone", "fill": "#d8d8fa", "fillOpacity": 1, "stroke": "black", "strokeWidth": 1.3, "clip": true},
          "encoding": {
            "x": {"field": "wl", "type": "quantitative", "scale": {"domain": [0.3513, 0.9]},
              "axis": {"orient": "bottom", "values": [0.4, 0.5, 0.6, 0.7, 0.8, 0.9], "format": "~g", "tickSize": -5, "labelPadding": 21, "labelBaseline": "middle",
                "title": "Wavelength(um)", "titleFont": "DejaVu Sans", "titleFontSize": 19, "titleX": 518.5, "titleY": 36, "titleBaseline": "middle", "titleAlign": "center"}},
            "y": {"field": "r", "type": "quantitative", "scale": {"domain": [0, 1]},
              "axis": {"orient": "left", "values": [0, 0.2, 0.4, 0.6, 0.8, 1], "format": "~g", "tickSize": -11, "labelPadding": 26,
                "title": "Relative Response", "titleFont": "Liberation Sans Narrow, Liberation Sans", "titleFontSize": 19, "titleX": -90, "titleY": 158, "titleAngle": 270, "titleBaseline": "middle", "titleAlign": "center"}}
          }
        },
        {
          "data": {"name": "ch2"},
          "mark": {"type": "area", "interpolate": "monotone", "fill": "#3030f6", "fillOpacity": 0.54, "stroke": "black", "strokeWidth": 1.3, "clip": true},
          "encoding": {
            "x": {"field": "wl", "type": "quantitative", "scale": {"domain": [0.3513, 0.9]}, "axis": null},
            "y": {"field": "r", "type": "quantitative", "scale": {"domain": [0, 1]}, "axis": null}
          }
        },
        {
          "data": {"name": "ch3"},
          "mark": {"type": "area", "interpolate": "monotone", "fill": "#5bf35b", "fillOpacity": 0.25, "stroke": "black", "strokeWidth": 1.3, "clip": true},
          "encoding": {
            "x": {"field": "wl", "type": "quantitative", "scale": {"domain": [0.3513, 0.9]}, "axis": null},
            "y": {"field": "r", "type": "quantitative", "scale": {"domain": [0, 1]}, "axis": null}
          }
        },
        {
          "data": {"name": "ch4"},
          "mark": {"type": "area", "interpolate": "monotone", "fill": "#ff0000", "fillOpacity": 0.16, "stroke": "black", "strokeWidth": 1.3, "clip": true},
          "encoding": {
            "x": {"field": "wl", "type": "quantitative", "scale": {"domain": [0.3513, 0.9]}, "axis": null},
            "y": {"field": "r", "type": "quantitative", "scale": {"domain": [0, 1]}, "axis": null}
          }
        },
        {
          "data": {"name": "trans1"},
          "transform": [{"filter": "datum.wl <= 0.6275"}],
          "mark": {"type": "line", "color": "#a9a9a9", "strokeWidth": 1.2, "clip": true},
          "encoding": {
            "x": {"field": "wl", "type": "quantitative", "scale": {"domain": [0.3513, 0.9]},
              "axis": {"orient": "top", "values": [0.4, 0.5, 0.6, 0.7, 0.8, 0.9], "labels": false, "tickSize": -5, "title": null}},
            "y": {"field": "t", "type": "quantitative", "scale": {"domain": [0.1443, 0.9825]},
              "axis": {"orient": "right", "values": [0.2, 0.3, 0.4, 0.5, 0.6, 0.7, 0.8, 0.9], "format": "~g", "tickSize": -9, "labelPadding": 24,
                "title": "Transmittance", "titleFont": "Liberation Sans Narrow, Liberation Sans", "titleFontSize": 19, "titleX": 97, "titleY": 158, "titleAngle": 270, "titleBaseline": "middle", "titleAlign": "center"}}
          }
        },
        {
          "data": {"name": "trans1"},
          "transform": [{"filter": "datum.wl >= 0.6275"}],
          "mark": {"type": "line", "color": "#a9a9a9", "strokeWidth": 2.1, "clip": true},
          "encoding": {
            "x": {"field": "wl", "type": "quantitative", "scale": {"domain": [0.3513, 0.9]}, "axis": null},
            "y": {"field": "t", "type": "quantitative", "scale": {"domain": [0.1443, 0.9825]}, "axis": null}
          }
        },
        {
          "data": {"name": "lab1"},
          "mark": {"type": "text"},
          "encoding": {
            "x": {"field": "wl", "type": "quantitative", "scale": {"domain": [0.3513, 0.9]}, "axis": null},
            "y": {"field": "r", "type": "quantitative", "scale": {"domain": [0, 1]}, "axis": null},
            "text": {"field": "ch"}
          }
        }
      ]
    },
    {
      "width": 1037,
      "height": 260,
      "view": {"stroke": "black", "strokeWidth": 1.5, "fill": "white"},
      "resolve": {"scale": {"x": "independent", "y": "independent"}},
      "layer": [
        {
          "data": {"name": "ch5"},
          "mark": {"type": "area", "interpolate": "monotone", "fill": "#d8d8fa", "fillOpacity": 1, "stroke": "black", "strokeWidth": 1.3, "clip": true},
          "encoding": {
            "x": {"field": "wl", "type": "quantitative", "scale": {"domain": [0.8, 1.8]},
              "axis": {"orient": "bottom", "values": [0.8, 1, 1.2, 1.4, 1.6, 1.8], "format": "~g", "tickSize": -5, "labelPadding": 18, "labelBaseline": "middle",
                "title": "Wavelength(um)", "titleFont": "DejaVu Sans", "titleFontSize": 19, "titleX": 518.5, "titleY": 30, "titleBaseline": "middle", "titleAlign": "center"}},
            "y": {"field": "r", "type": "quantitative", "scale": {"domain": [0, 1]},
              "axis": {"orient": "left", "values": [0, 0.2, 0.4, 0.6, 0.8, 1], "format": "~g", "tickSize": -11, "labelPadding": 26,
                "title": "Relative Response", "titleFont": "Liberation Sans Narrow, Liberation Sans", "titleFontSize": 16, "titleX": -90, "titleY": 130, "titleAngle": 270, "titleBaseline": "middle", "titleAlign": "center"}}
          }
        },
        {
          "data": {"name": "ch6"},
          "mark": {"type": "area", "interpolate": "monotone", "fill": "#d8d8fa", "fillOpacity": 1, "stroke": "black", "strokeWidth": 1.3, "clip": true},
          "encoding": {
            "x": {"field": "wl", "type": "quantitative", "scale": {"domain": [0.8, 1.8]}, "axis": null},
            "y": {"field": "r", "type": "quantitative", "scale": {"domain": [0, 1]}, "axis": null}
          }
        },
        {
          "data": {"name": "trans2"},
          "mark": {"type": "line", "color": "#a9a9a9", "strokeWidth": 2.4, "clip": true},
          "encoding": {
            "x": {"field": "wl", "type": "quantitative", "scale": {"domain": [0.8, 1.8]},
              "axis": {"orient": "top", "values": [1, 1.2, 1.4, 1.6], "labels": false, "tickSize": -5, "title": null}},
            "y": {"field": "t", "type": "quantitative", "scale": {"domain": [0, 1]},
              "axis": {"orient": "right", "values": [0, 0.1, 0.2, 0.3, 0.4, 0.5, 0.6, 0.7, 0.8, 0.9], "format": "~g", "tickSize": -9, "labelPadding": 24,
                "title": "Transmittance", "titleFont": "Liberation Sans Narrow, Liberation Sans", "titleFontSize": 16, "titleX": 95, "titleY": 130, "titleAngle": 270, "titleBaseline": "middle", "titleAlign": "center"}}
          }
        },
        {
          "data": {"name": "lab2"},
          "mark": {"type": "text"},
          "encoding": {
            "x": {"field": "wl", "type": "quantitative", "scale": {"domain": [0.8, 1.8]}, "axis": null},
            "y": {"field": "r", "type": "quantitative", "scale": {"domain": [0, 1]}, "axis": null},
            "text": {"field": "ch"}
          }
        }
      ]
    },
    {
      "width": 1049,
      "height": 302,
      "view": {"stroke": null, "fill": null},
      "resolve": {"scale": {"x": "independent", "y": "independent"}},
      "layer": [
        {
          "data": {"name": "ch7"},
          "mark": {"type": "area", "interpolate": "monotone", "fill": "#d8d8fa", "fillOpacity": 1, "stroke": "black", "strokeWidth": 1, "clip": true},
          "encoding": {
            "x": {"field": "wn", "type": "quantitative", "scale": {"domain": [700, 1300], "range": [4, 1049]},
              "axis": {"orient": "bottom", "values": [700, 800, 900, 1000, 1100, 1200, 1300], "format": "d", "labelFontSize": 17, "domain": true, "domainColor": "black", "domainWidth": 1.2, "tickSize": -7, "tickWidth": 1.2, "labelPadding": 24, "labelBaseline": "middle",
                "title": "Wavenumber(cm⁻¹)", "titleFont": "DejaVu Sans", "titleFontSize": 19, "titleX": 526.5, "titleY": 43, "titleBaseline": "middle", "titleAlign": "center"}},
            "y": {"field": "r", "type": "quantitative", "scale": {"domain": [0, 1], "range": [302, 27]},
              "axis": {"orient": "left", "offset": -4, "values": [0, 0.2, 0.4, 0.6, 0.8, 1], "format": "~g", "labelFontSize": 17, "domain": true, "domainColor": "black", "domainWidth": 1.2, "tickSize": -9, "tickWidth": 1.2, "labelPadding": 21,
                "title": "Relative Response", "titleFont": "Liberation Sans", "titleFontSize": 16, "titleX": -67, "titleY": 164.5, "titleAngle": 270, "titleBaseline": "middle", "titleAlign": "center"}}
          }
        },
        {
          "data": {"name": "bt"},
          "mark": {"type": "line", "color": "#ff0000", "strokeWidth": 1.1, "clip": true},
          "encoding": {
            "x": {"field": "wn", "type": "quantitative", "scale": {"domain": [700, 1300], "range": [4, 1049]},
              "axis": {"orient": "top", "offset": -27, "values": [800, 900, 1000, 1100, 1200], "labels": false, "domain": true, "domainColor": "black", "domainWidth": 1.2, "tickSize": -5, "tickWidth": 1.2, "title": null}},
            "y": {"field": "k", "type": "quantitative", "scale": {"domain": [210, 280], "range": [302, 27]},
              "axis": {"orient": "right", "values": [210, 220, 230, 240, 250, 260, 270, 280], "format": "d", "labelFontSize": 17, "domain": true, "domainColor": "#0072bd", "domainWidth": 1.5, "tickColor": "#0072bd", "tickSize": -11, "tickWidth": 1.2, "labelPadding": 23, "labelColor": "#0072bd",
                "title": "Brightness Temperature(K)", "titleFont": "Liberation Sans", "titleFontSize": 16, "titleColor": "#0072bd", "titleX": 80, "titleY": 164.5, "titleAngle": 270, "titleBaseline": "middle", "titleAlign": "center"}}
          }
        },
        {
          "data": {"name": "lab3"},
          "mark": {"type": "text"},
          "encoding": {
            "x": {"field": "wn", "type": "quantitative", "scale": {"domain": [700, 1300], "range": [4, 1049]}, "axis": null},
            "y": {"field": "r", "type": "quantitative", "scale": {"domain": [0, 1], "range": [302, 27]}, "axis": null},
            "text": {"field": "ch"}
          }
        }
      ]
    }
  ]
}
